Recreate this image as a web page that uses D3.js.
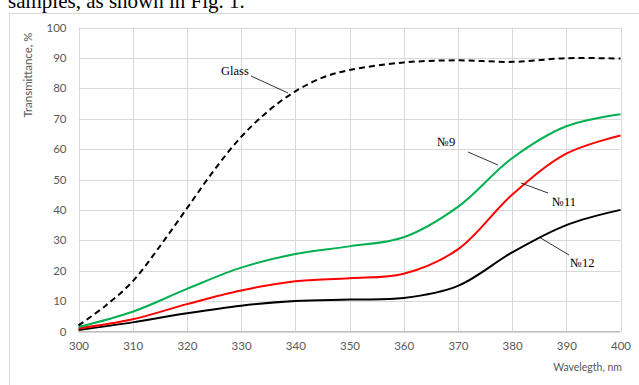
<!DOCTYPE html>
<html>
<head>
<meta charset="utf-8">
<script src="https://cdn.jsdelivr.net/npm/d3@7"></script>
<style>
  html, body { margin: 0; padding: 0; background: #fff; }
  svg { display: block; }
</style>
</head>
<body>
<svg id="chart" width="639" height="385"></svg>
<script>
// Wavelength grid (nm) and transmittance (%) of each sample
const wavelengthsGlass = [300, 305, 310, 315, 320, 325, 330, 335, 340, 345, 350, 360, 370, 380, 390, 400];
const glass = [2, 8.5, 16.5, 28, 40.5, 53, 64, 72.5, 79, 83.5, 86, 88.5, 89.2, 88.7, 89.9, 89.8];

const wavelengths = [300, 310, 320, 330, 340, 350, 360, 370, 380, 390, 400];
const sample9  = [1.5, 6.5, 14, 21, 25.5, 28, 31, 41, 57, 67.5, 71.5];
const sample11 = [1, 4, 9, 13.5, 16.5, 17.5, 19, 27, 45, 58.5, 64.5];
const sample12 = [0.5, 3, 6, 8.5, 10, 10.5, 11, 15, 26, 35, 40];

const xTicks = [300, 310, 320, 330, 340, 350, 360, 370, 380, 390, 400];
const yTicks = [0, 10, 20, 30, 40, 50, 60, 70, 80, 90, 100];

const svg = d3.select("#chart");

// Running text of the page above the figure
svg.append("text")
  .attr("x", 8).attr("y", 8)
  .attr("font-family", "Liberation Serif, Times New Roman, serif")
  .attr("font-size", 21)
  .attr("fill", "#000")
  .text("samples, as shown in Fig. 1.");

// Chart frame
svg.append("rect")
  .attr("x", 9.5).attr("y", 13.5)
  .attr("width", 700).attr("height", 400)
  .attr("fill", "none").attr("stroke", "#d9d9d9").attr("stroke-width", 1);

const x = d3.scaleLinear().domain([300, 400]).range([78.5, 620.5]);
const y = d3.scaleLinear().domain([0, 100]).range([331.5, 27.5]);

const grid = svg.append("g");
// horizontal gridlines
grid.selectAll("line.h").data(yTicks).join("line")
  .attr("x1", x(300)).attr("x2", x(400))
  .attr("y1", d => Math.round(y(d)) + 0.5).attr("y2", d => Math.round(y(d)) + 0.5)
  .attr("stroke", "#d9d9d9").attr("stroke-width", 1);
// vertical gridlines
grid.selectAll("line.v").data(xTicks).join("line")
  .attr("y1", y(0)).attr("y2", y(100))
  .attr("x1", d => Math.round(x(d)) + 0.5).attr("x2", d => Math.round(x(d)) + 0.5)
  .attr("stroke", "#d9d9d9").attr("stroke-width", 1);

const tickFont = "Lato, Open Sans, sans-serif";

// Axes (labels only; gridlines drawn above)
const yAxis = d3.axisLeft(y).tickValues(yTicks).tickSize(0).tickPadding(12);
const gy = svg.append("g").attr("transform", `translate(${x(300)},0)`).call(yAxis);
gy.select(".domain").remove();
gy.selectAll("text").attr("font-family", tickFont).attr("font-size", 11.5).attr("fill", "#595959");

const xAxis = d3.axisBottom(x).tickValues(xTicks).tickSize(0).tickPadding(10);
const gx = svg.append("g").attr("transform", `translate(0,${y(0)})`).call(xAxis);
gx.select(".domain").remove();
gx.selectAll("text").attr("font-family", tickFont).attr("font-size", 11.5).attr("fill", "#595959");

// axis line at 0
svg.append("line")
  .attr("x1", x(300)).attr("x2", x(400))
  .attr("y1", y(0)).attr("y2", y(0))
  .attr("stroke", "#bfbfbf").attr("stroke-width", 1);

// Axis titles
svg.append("text")
  .attr("transform", `translate(32,75) rotate(-90)`)
  .attr("text-anchor", "middle")
  .attr("font-family", tickFont).attr("font-size", 11.5).attr("fill", "#595959")
  .text("Transmittance, %");
svg.append("text")
  .attr("x", 622).attr("y", 371)
  .attr("text-anchor", "end")
  .attr("font-family", tickFont).attr("font-size", 10.5).attr("fill", "#595959")
  .text("Wavelegth, nm");

// Curves
const line = d3.line().x(d => x(d[0])).y(d => y(d[1])).curve(d3.curveCatmullRom.alpha(0.5));
const series = [
  { xs: wavelengths, ys: sample12, color: "#000000", dash: null },
  { xs: wavelengths, ys: sample11, color: "#ff0000", dash: null },
  { xs: wavelengths, ys: sample9,  color: "#00b050", dash: null },
  { xs: wavelengthsGlass, ys: glass, color: "#000000", dash: "6,4" }
];
series.forEach(s => {
  svg.append("path")
    .datum(d3.zip(s.xs, s.ys))
    .attr("d", line)
    .attr("fill", "none")
    .attr("stroke", s.color)
    .attr("stroke-width", 2)
    .attr("stroke-dasharray", s.dash);
});

// Callout labels with leader lines
const callouts = [
  { text: "Glass", tx: 221, ty: 75, l: [251, 76, 288, 93] },
  { text: "№9",   tx: 437, ty: 146, l: [468, 152, 498, 165] },
  { text: "№11",  tx: 552, ty: 206, l: [521, 183, 548, 193] },
  { text: "№12",  tx: 570, ty: 267, l: [539, 237, 569, 255] }
];
callouts.forEach(c => {
  svg.append("line")
    .attr("x1", c.l[0]).attr("y1", c.l[1]).attr("x2", c.l[2]).attr("y2", c.l[3])
    .attr("stroke", "#000").attr("stroke-width", 0.8);
  svg.append("text")
    .attr("x", c.tx).attr("y", c.ty)
    .attr("font-family", "Liberation Serif, Times New Roman, serif")
    .attr("font-size", 12.5).attr("fill", "#000")
    .text(c.text);
});
</script>
</body>
</html>
